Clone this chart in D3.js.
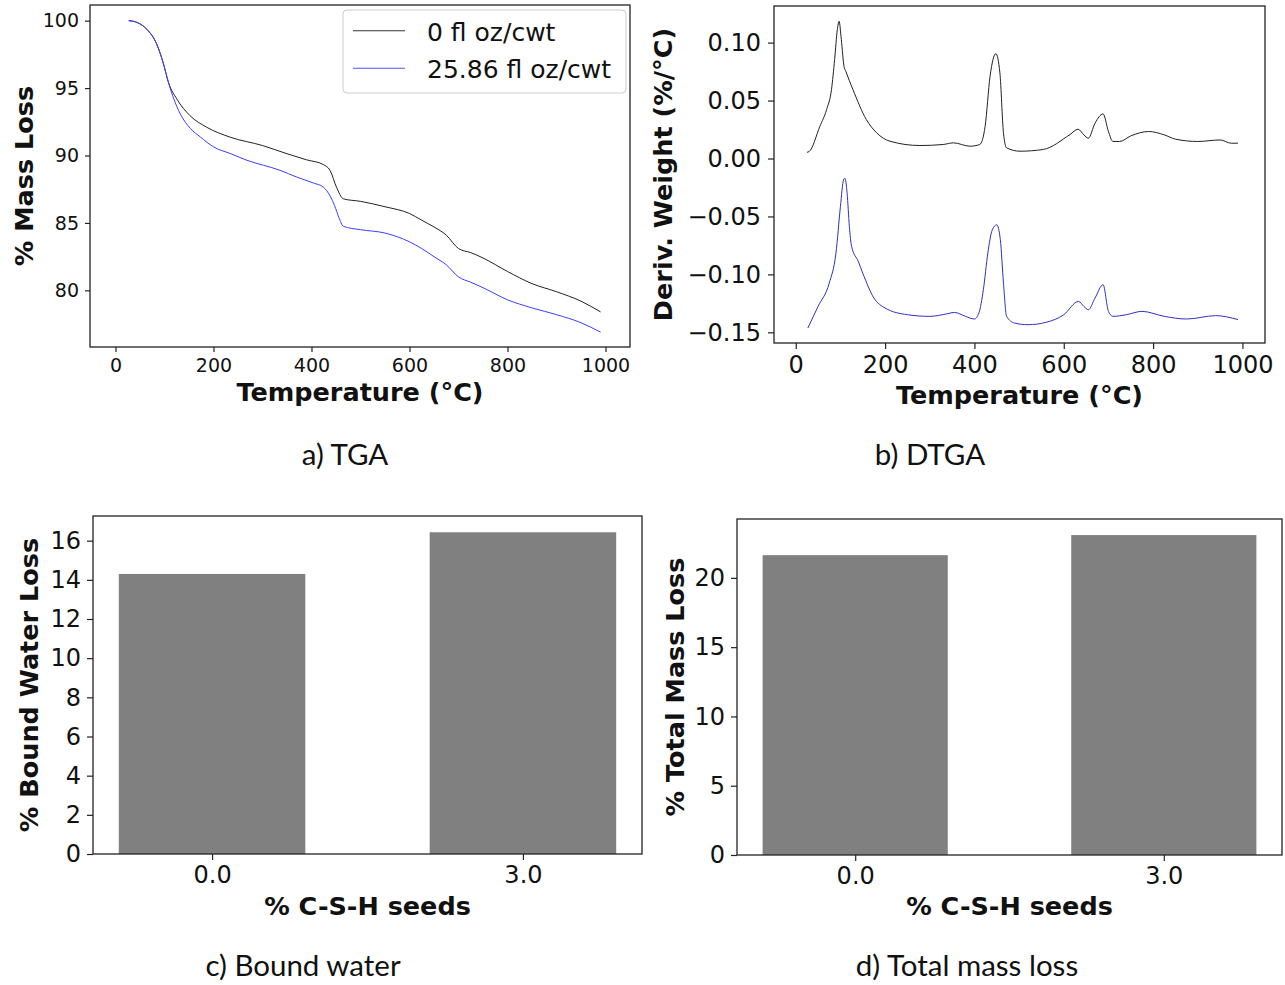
<!DOCTYPE html>
<html><head><meta charset="utf-8">
<script src="https://cdn.jsdelivr.net/npm/d3@7"></script>
<style>body{margin:0;background:#fff}</style>
</head><body>
<svg id="c" width="1285" height="985"></svg>
<script>
// ---------- DATA ----------
// a) TGA
const tgaTemp0 = [27,45,64,84,98,108,125,152,186,234,300,350,390,424,438,451,465,500,550,600,625,650,675,700,725,750,800,850,900,950,990];
const tga0     = [100,99.85,99.36,98.27,96.79,95.43,94.2,92.96,92.1,91.36,90.74,90.13,89.68,89.33,88.89,87.65,86.79,86.6,86.2,85.7,85.2,84.7,84.1,83.1,82.8,82.4,81.4,80.5,79.9,79.2,78.4];
const tgaTemp25 = [27,45,64,84,98,108,119,132,153,173,200,234,268,336,370,404,424,438,447,456,465,500,550,600,625,650,675,700,725,750,800,850,900,950,990];
const tga25     = [100,99.85,99.36,98.27,96.79,95.43,94.2,93.1,92.0,91.38,90.64,90.15,89.65,88.9,88.4,87.96,87.66,87.0,86.3,85.4,84.75,84.5,84.25,83.6,83.1,82.5,81.9,81.0,80.6,80.2,79.3,78.7,78.2,77.6,76.9];
const seriesNames = ["0 fl oz/cwt", "25.86 fl oz/cwt"];
// b) DTGA
const dtgaTemp0 = [25,30,54,69,80,87,93,97,102,108,112,128,158,181,211,278,330,353,390,412,424,435,448,457,465,472,502,554,614,632,645,655,670,688,700,710,725,750,790,825,850,900,950,975,990];
const dtga0     = [0.0054,0.006,0.0278,0.0422,0.0595,0.0853,0.111,0.1184,0.1026,0.0796,0.0753,0.0595,0.0336,0.0222,0.0149,0.0112,0.0121,0.0135,0.0106,0.0121,0.0279,0.071,0.0905,0.0739,0.0222,0.0092,0.0063,0.0078,0.0207,0.0253,0.0204,0.0175,0.0305,0.0385,0.0233,0.0147,0.0147,0.0195,0.0233,0.0204,0.0167,0.0147,0.016,0.0132,0.0132];
const dtgaTemp25 = [27,50,75,90,100,107,110,115,120,125,140,150,175,200,250,300,340,355,380,400,410,420,430,440,450,458,465,472,490,520,560,600,633,645,655,670,688,700,710,740,775,825,875,940,990];
const dtga25     = [-0.1463,-0.1276,-0.1075,-0.0816,-0.0414,-0.0184,-0.017,-0.030,-0.0586,-0.0759,-0.0888,-0.0989,-0.1204,-0.129,-0.1348,-0.1362,-0.1339,-0.1328,-0.1362,-0.1385,-0.1333,-0.1132,-0.0816,-0.0615,-0.0572,-0.070,-0.1075,-0.1362,-0.142,-0.1434,-0.1414,-0.1348,-0.1233,-0.1276,-0.1305,-0.1204,-0.1089,-0.1319,-0.1362,-0.1348,-0.1319,-0.1362,-0.1385,-0.1356,-0.139];
// c) & d) bars
const seedCats   = ["0.0", "3.0"];
const boundWater = [14.30, 16.43];
const totalMass  = [21.64, 23.09];
// ticks
const tempTicks = [0,200,400,600,800,1000];
const tgaYTicks = [80,85,90,95,100];
const dtgaYTicks = [-0.15,-0.10,-0.05,0.00,0.05,0.10];
const bwTicks = [0,2,4,6,8,10,12,14,16];
const tmTicks = [0,5,10,15,20];
const captions = ["a) TGA", "b) DTGA", "c) Bound water", "d) Total mass loss"];

// ---------- DRAW ----------
const svg = d3.select("#c");
svg.append("rect").attr("width",1285).attr("height",985).attr("fill","#fff");
const MPL = "DejaVu Sans, sans-serif";

function makePanel(o) {
  const x = d3.scaleLinear().domain(o.xDomain).range([o.box.x0, o.box.x1]);
  const y = d3.scaleLinear().domain(o.yDomain).range([o.box.y1, o.box.y0]);
  const g = svg.append("g");
  const marks = g.append("g");
  const ax = d3.axisBottom(x).tickValues(o.xTicks).tickFormat(o.xFmt)
      .tickSize(o.tickLen).tickSizeOuter(0).tickPadding(o.xPad);
  const gx = g.append("g").attr("transform", `translate(0,${o.box.y1})`).call(ax);
  const ay = d3.axisLeft(y).tickValues(o.yTicks).tickFormat(o.yFmt)
      .tickSize(o.tickLen).tickSizeOuter(0).tickPadding(o.yPad);
  const gy = g.append("g").attr("transform", `translate(${o.box.x0},0)`).call(ay);
  [gx, gy].forEach(a => {
    a.select(".domain").remove();
    a.attr("font-family", MPL).attr("font-size", o.tickFont);
    a.selectAll("line").attr("stroke", "#222").attr("stroke-width", 1.2);
    a.selectAll("text").attr("fill", "#111");
  });
  g.append("rect").attr("x", o.box.x0).attr("y", o.box.y0)
    .attr("width", o.box.x1 - o.box.x0).attr("height", o.box.y1 - o.box.y0)
    .attr("fill", "none").attr("stroke", "#222").attr("stroke-width", 1.3);
  g.append("text").attr("x", (o.box.x0 + o.box.x1) / 2).attr("y", o.xLabelY)
    .attr("text-anchor", "middle").attr("font-family", MPL).attr("font-weight", "bold")
    .attr("font-size", 25.5).attr("fill", "#111").text(o.xLabel);
  g.append("text").attr("transform", `translate(${o.yLabelX},${(o.box.y0 + o.box.y1) / 2}) rotate(-90)`)
    .attr("text-anchor", "middle").attr("font-family", MPL).attr("font-weight", "bold")
    .attr("font-size", 25.5).attr("fill", "#111").text(o.yLabel);
  return {x, y, g, marks};
}

// a) TGA
const pa = makePanel({
  box: {x0: 90, x1: 630, y0: 5, y1: 347},
  xDomain: [-52, 1050], yDomain: [75.8, 101.16],
  xTicks: tempTicks, yTicks: tgaYTicks, xFmt: d3.format("d"), yFmt: d3.format("d"),
  tickFont: 19, tickLen: 5, xPad: 7, yPad: 6,
  xLabel: "Temperature (°C)", xLabelY: 401, yLabel: "% Mass Loss", yLabelX: 33
});
const lineA = d3.line().curve(d3.curveMonotoneX).x(d => pa.x(d[0])).y(d => pa.y(d[1]));
pa.marks.append("path").attr("d", lineA(d3.zip(tgaTemp0, tga0)))
  .attr("fill", "none").attr("stroke", "#222").attr("stroke-width", 1);
pa.marks.append("path").attr("d", lineA(d3.zip(tgaTemp25, tga25)))
  .attr("fill", "none").attr("stroke", "#3d3dff").attr("stroke-width", 1);
// legend
const lg = pa.g.append("g");
lg.append("rect").attr("x", 343).attr("y", 10).attr("width", 283).attr("height", 83)
  .attr("rx", 4).attr("fill", "#fff").attr("fill-opacity", 0.85).attr("stroke", "#cccccc").attr("stroke-width", 1);
const legColors = ["#333", "#5050ff"];
seriesNames.forEach((n, i) => {
  const yy = 30.7 + i * 37.6;
  lg.append("line").attr("x1", 353).attr("x2", 405).attr("y1", yy).attr("y2", yy)
    .attr("stroke", legColors[i]).attr("stroke-width", 1.1);
  lg.append("text").attr("x", 427).attr("y", yy + 10).attr("font-family", MPL)
    .attr("font-size", 25).attr("fill", "#111").text(n);
});

// b) DTGA
const pb = makePanel({
  box: {x0: 774, x1: 1265, y0: 6, y1: 343},
  xDomain: [-48.7, 1050.5], yDomain: [-0.1592, 0.1316],
  xTicks: tempTicks, yTicks: dtgaYTicks, xFmt: d3.format("d"), yFmt: d3.format(".2f"),
  tickFont: 24, tickLen: 6, xPad: 7, yPad: 7,
  xLabel: "Temperature (°C)", xLabelY: 404, yLabel: "Deriv. Weight (%/°C)", yLabelX: 672
});
const lineB = d3.line().curve(d3.curveMonotoneX).x(d => pb.x(d[0])).y(d => pb.y(d[1]));
pb.marks.append("path").attr("d", lineB(d3.zip(dtgaTemp0, dtga0)))
  .attr("fill", "none").attr("stroke", "#222").attr("stroke-width", 1);
pb.marks.append("path").attr("d", lineB(d3.zip(dtgaTemp25, dtga25)))
  .attr("fill", "none").attr("stroke", "#3030c0").attr("stroke-width", 1);

// c) & d) bars
function barPanel(box, vals, yMax, yTicks, yLabel, yLabelX) {
  const p = makePanel({
    box, xDomain: [-0.383, 1.383], yDomain: [0, yMax],
    xTicks: [0, 1], yTicks, xFmt: i => seedCats[i], yFmt: d3.format("d"),
    tickFont: 24, tickLen: 6, xPad: 6, yPad: 6,
    xLabel: "% C-S-H seeds", xLabelY: 915, yLabel, yLabelX
  });
  p.marks.selectAll("rect").data(vals).join("rect")
    .attr("x", (d, i) => p.x(i - 0.3)).attr("width", (d, i) => p.x(i + 0.3) - p.x(i - 0.3))
    .attr("y", d => p.y(d)).attr("height", d => p.y(0) - p.y(d))
    .attr("fill", "#808080");
  return p;
}
barPanel({x0: 93, x1: 642, y0: 516, y1: 854}, boundWater, 17.26, bwTicks, "% Bound Water Loss", 38);
barPanel({x0: 737, x1: 1282, y0: 519, y1: 855}, totalMass, 24.25, tmTicks, "% Total Mass Loss", 684);

// captions
const capPos = [[345, 465], [930, 465], [303, 976], [967, 976]];
captions.forEach((c, i) => {
  svg.append("text").attr("x", capPos[i][0]).attr("y", capPos[i][1])
    .attr("text-anchor", "middle").attr("font-family", "Lato, 'Open Sans', sans-serif")
    .attr("font-size", 29.5).attr("fill", "#111").text(c);
});
</script>
</body></html>
